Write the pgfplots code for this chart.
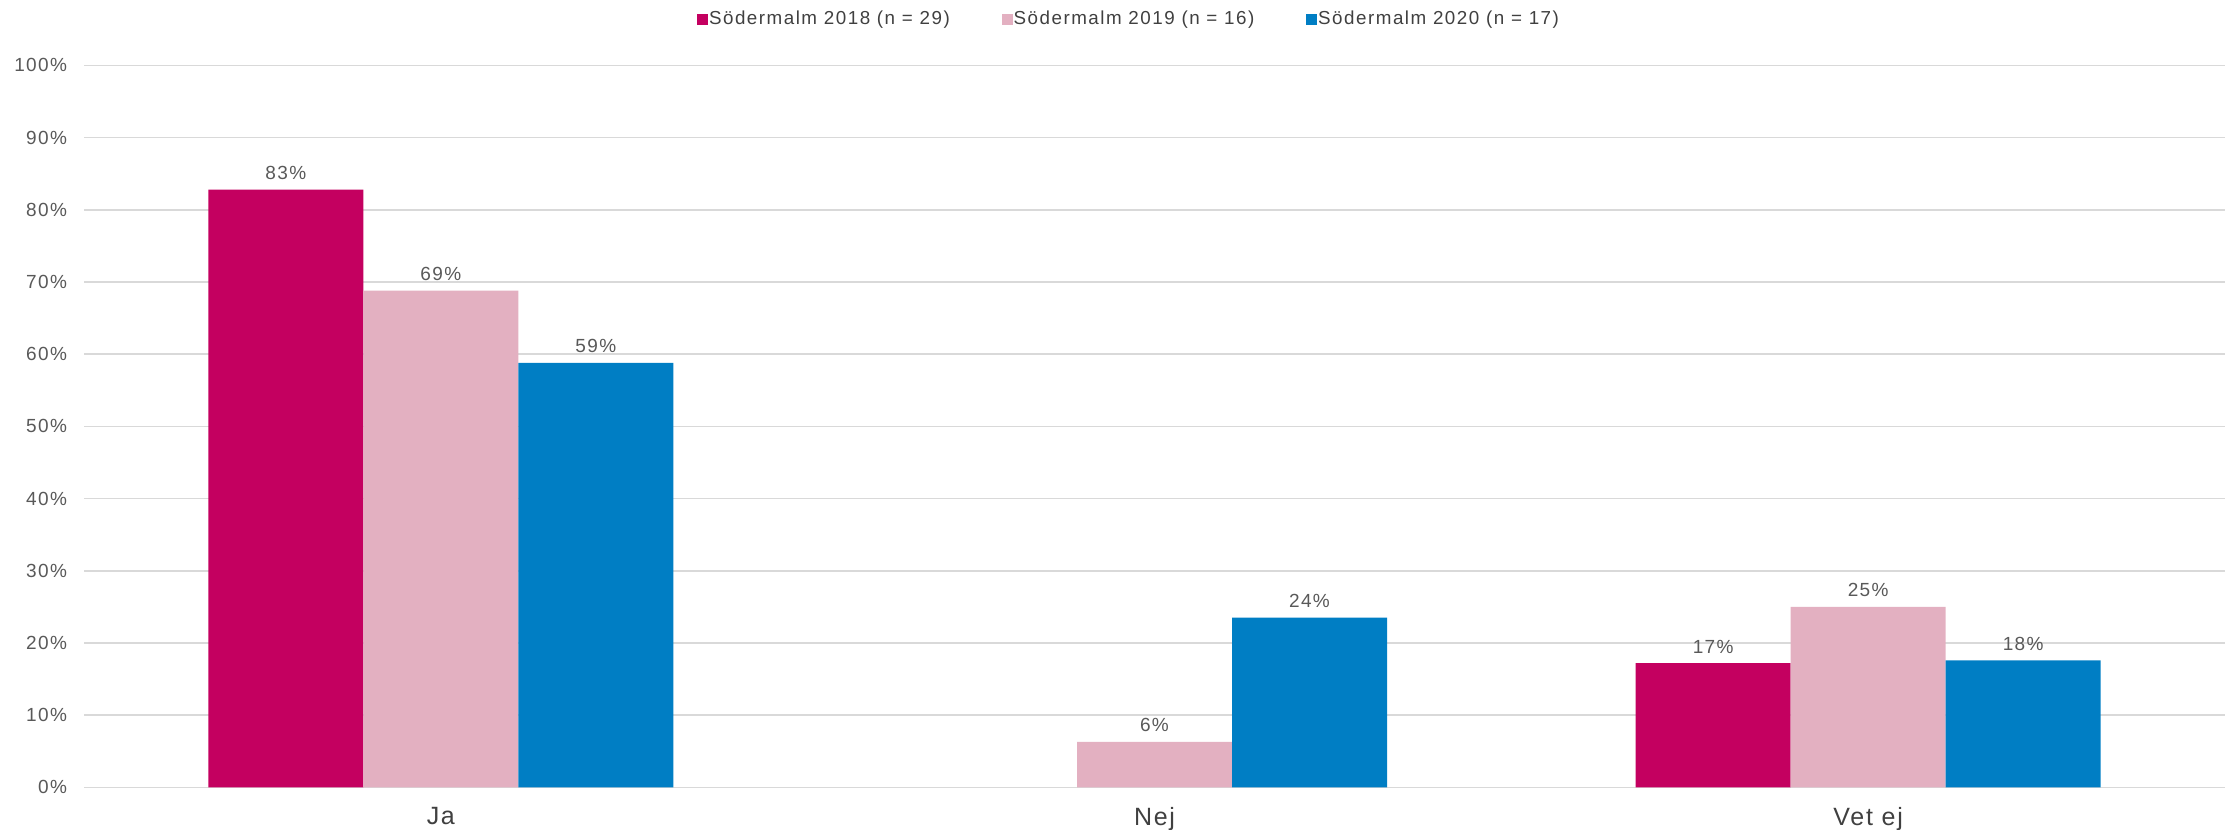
\documentclass[border=0pt]{standalone}
\usepackage{pgfplots}
\pgfplotsset{compat=1.18}
\usepackage{fontspec}
\setmainfont{Liberation Sans}[LetterSpace=7]
\newfontfamily\legfont{Liberation Sans}[LetterSpace=8]
\definecolor{c18}{RGB}{196,0,96}
\definecolor{c19}{RGB}{227,176,193}
\definecolor{c20}{RGB}{0,126,196}
\definecolor{gridgray}{RGB}{217,217,217}
\definecolor{txtgray}{RGB}{89,89,89}
\definecolor{catgray}{RGB}{64,64,64}
\pgfplotsset{sq/.style={legend image code/.code={\fill[##1,draw=none] (0pt,-2.7pt) rectangle (5.4pt,2.7pt);}}}
\begin{document}
\begin{tikzpicture}
\begin{axis}[
  scale only axis,
  width=1070.5pt, height=361pt,
  ybar=0pt, bar width=77.5pt,
  xmin=-0.5, xmax=2.5, ymin=0, ymax=100,
  axis x line*=bottom, axis y line*=left,
  x axis line style={draw=gridgray, line width=0.8pt},
  y axis line style={draw=none},
  xtick={0,1,2}, xticklabels={Ja,Nej,Vet ej},
  xtick style={draw=none},
  extra x ticks={-0.5,0.5,1.5,2.5}, extra x tick labels={},
  extra x tick style={tick style={draw=gridgray, line width=0.8pt}, major tick length=4pt, tick align=outside},
  ytick={0,10,...,100},
  yticklabels={0\%,10\%,20\%,30\%,40\%,50\%,60\%,70\%,80\%,90\%,100\%},
  ytick style={draw=none},
  ymajorgrids, grid style={draw=gridgray, line width=0.8pt},
  yticklabel style={font=\fontsize{9.5}{11}\selectfont, text=txtgray, xshift=-5pt},
  xticklabel style={font=\fontsize{12.5}{14}\selectfont, text=catgray, yshift=-2pt},
  point meta=explicit symbolic,
  nodes near coords,
  every node near coord/.append style={font=\fontsize{9.5}{11}\selectfont, text=txtgray, yshift=1.5pt},
  legend columns=3,
  legend style={at={(0.4886,1.064)}, anchor=center, draw=none, fill=none,
    font=\legfont\fontsize{9.4}{11}\selectfont, text=catgray,
    /tikz/every even column/.append style={column sep=24pt},
    /tikz/every odd column/.append style={column sep=-1.5pt}},
  clip=false,
]
\addplot[fill=c18, draw=none, sq] coordinates {(0,82.8) [83\%] (2,17.2) [17\%]};
\addlegendentry{Södermalm 2018 (n = 29)}
\addplot[fill=c19, draw=none, sq] coordinates {(0,68.8) [69\%] (1,6.3) [6\%] (2,25.0) [25\%]};
\addlegendentry{Södermalm 2019 (n = 16)}
\addplot[fill=c20, draw=none, sq] coordinates {(0,58.8) [59\%] (1,23.5) [24\%] (2,17.6) [18\%]};
\addlegendentry{Södermalm 2020 (n = 17)}
\end{axis}
\pgfresetboundingbox
\path[use as bounding box] ([xshift=-42pt,yshift=-21pt]current axis.south west) rectangle ([xshift=4.5pt,yshift=32.7pt]current axis.north east);
\end{tikzpicture}
\end{document}
